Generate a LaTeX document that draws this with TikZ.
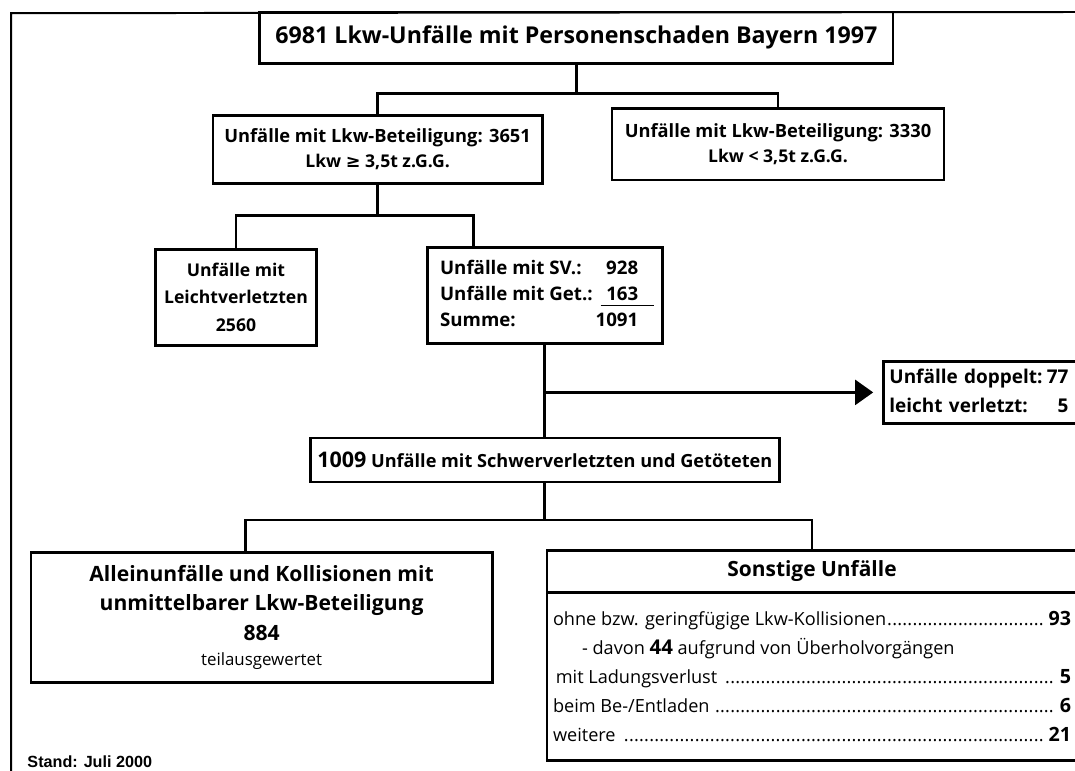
\documentclass[tikz,border=0pt]{standalone}
\usepackage{fontspec}
\setmainfont{Open Sans}
\newfontfamily\standfont{Liberation Sans}
\newfontfamily\symbfont{DejaVu Sans}
\usetikzlibrary{arrows.meta,calc}

\newcommand{\punkte}{\leaders\hbox to 3.6pt{\hss.\hss}\hfill}

\tikzset{
	kasten/.style={draw, line width=2pt, inner sep=2pt, align=center},
	linie/.style={line width=2pt},
}

\begin{document}
\begin{tikzpicture}[x=1cm, y=-1cm]
	\useasboundingbox (0,0) rectangle (26.875,19.25);
	% Rahmen
	\draw[line width=1.4pt] (0.28,19.3) -- (0.28,0.33) -- (26.9,0.3);

	\node[kasten, minimum width=15.83cm, minimum height=1.28cm, font=\bfseries\fontsize{16.5}{22}\selectfont](gesamt) at (14.41,0.94){6981 Lkw-Unfälle mit Personenschaden Bayern 1997};

	\node[kasten, minimum width=8.23cm, minimum height=1.7cm, font=\bfseries\fontsize{13}{18}\selectfont](lkwgross) at (9.44,3.73){Unfälle mit Lkw-Beteiligung: 3651\\{\fontsize{12.5}{18}\selectfont Lkw {\symbfont≥} 3,5t z.G.G.}};
	\node[kasten, minimum width=8.3cm, minimum height=1.78cm, font=\bfseries\fontsize{13}{18}\selectfont](lkwklein) at (19.45,3.61){Unfälle mit Lkw-Beteiligung: 3330\\{\fontsize{12.5}{18}\selectfont Lkw < 3,5t z.G.G.}};

	\node[kasten, minimum width=4.03cm, minimum height=2.4cm, font=\bfseries\fontsize{12.5}{19.5}\selectfont](leicht) at (5.9,7.43){Unfälle mit\\Leichtverletzten\\2560};
	\node[kasten, minimum width=5.88cm, minimum height=2.4cm, font=\bfseries\fontsize{13.3}{18.5}\selectfont](sv) at (13.62,7.38){%
		\begin{tabular}{@{}l@{\hspace{2pt}}r@{}}
			Unfälle mit SV.: & 928\\
			Unfälle mit Get.: & \makebox[0pt][l]{\hspace*{-4pt}\rule[-4pt]{38pt}{0.9pt}}163\\
			Summe: & 1091
		\end{tabular}\hspace*{8pt}};

	\node[kasten, anchor=west, text width=4.9cm, align=left, inner xsep=0.15cm, minimum height=1.53cm, font=\bfseries\fontsize{13.5}{20}\selectfont](doppelt) at (22.05,9.81){%
		\begin{tabular}{@{}l@{\hspace{3pt}}r@{}}
			Unfälle doppelt: & 77\\
			leicht verletzt: & 5
		\end{tabular}};

	\node[kasten, minimum width=11.73cm, minimum height=1.1cm, font=\bfseries\fontsize{12.9}{18}\selectfont](schwer) at (13.62,11.5){{\fontsize{15.3}{18}\selectfont 1009} Unfälle mit Schwerverletzten und Getöteten};

	\node[kasten, minimum width=11.53cm, minimum height=3.25cm, font=\bfseries\fontsize{15}{21}\selectfont](allein) at (6.54,15.43){Alleinunfälle und Kollisionen mit\\unmittelbarer Lkw-Beteiligung\\884\\[-3pt]{\mdseries\fontsize{12}{15}\selectfont teilausgewertet}};

	\node[kasten, outer sep=0pt, minimum width=13.25cm, minimum height=1.05cm, font=\bfseries\fontsize{14.9}{18}\selectfont](sonstkopf) at (20.3,14.28){Sonstige Unfälle};
	\node[kasten, outer sep=0pt, anchor=north, minimum width=13.25cm, minimum height=4.2cm, inner sep=0pt, font=\fontsize{12.9}{20.6}\selectfont](sonstrumpf) at (sonstkopf.south){%
		\begin{minipage}{12.95cm}
			ohne bzw. geringfügige Lkw-Kollisionen\punkte\,\textbf{\fontsize{14}{20.6}\selectfont 93}\\
			\hspace*{1.6em}- davon \textbf{\fontsize{14.5}{20.6}\selectfont 44} aufgrund von Überholvorgängen\\
			\hspace*{2pt}mit Ladungsverlust \punkte\,\textbf{\fontsize{14}{20.6}\selectfont 5}\\
			beim Be-/Entladen \punkte\,\textbf{\fontsize{14}{20.6}\selectfont 6}\\
			weitere \punkte\,\textbf{\fontsize{14}{20.6}\selectfont 21}
		\end{minipage}};

	\node[anchor=west, inner sep=0pt, font=\standfont\bfseries\fontsize{11.5}{13}\selectfont](stand) at (0.68,19.05){Stand: Juli 2000};

	% Verbindungen
	\coordinate (gabel1) at (14.41,2.33);
	\coordinate (gabel2) at (9.44,5.38);
	\coordinate (gabel3) at (13.62,13.0);
	\coordinate (abzweig) at (sv.south |- doppelt.west);

	\draw[linie] (gesamt.south) -- (gabel1);
	\draw[linie] (lkwgross.north) |- (gabel1) -| (lkwklein.north);
	\draw[linie] (lkwgross.south) -- (gabel2);
	\draw[linie] (leicht.north) |- (gabel2) -| ($(sv.north west)!0.2!(sv.north east)$);
	\draw[linie] (sv.south) -- (schwer.north);
	\draw[linie, -{Triangle[length=0.45cm, width=0.62cm]}, shorten >=0.22cm] (abzweig) -- (doppelt.west);
	\draw[linie] (schwer.south) -- (gabel3);
	\draw[linie] ($(allein.north west)!0.466!(allein.north east)$) |- (gabel3) -| (sonstkopf.north);
\end{tikzpicture}
\end{document}
